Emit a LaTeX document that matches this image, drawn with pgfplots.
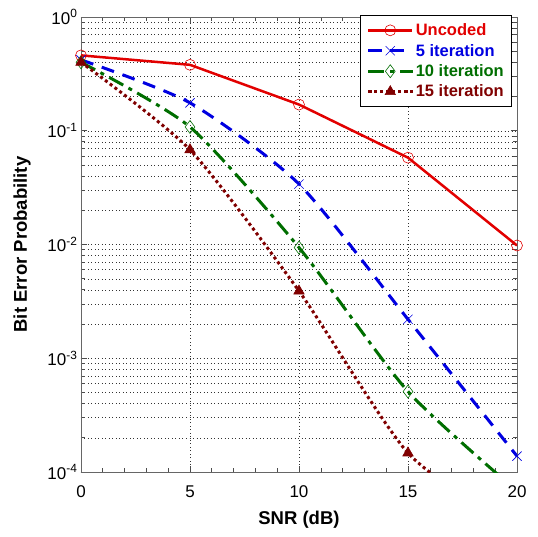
\documentclass[border=0pt]{standalone}
\usepackage{fontspec}
\setmainfont{Liberation Sans}
\usepackage{pgfplots}
\pgfplotsset{compat=1.18}

\definecolor{mred}{RGB}{226,0,0}
\definecolor{mblue}{RGB}{0,0,225}
\definecolor{mgreen}{RGB}{0,110,0}
\definecolor{mdark}{RGB}{128,0,0}

\begin{document}
\begin{tikzpicture}
\begin{axis}[
  scale only axis,
  width=436pt, height=455pt,
  xmin=0, xmax=20, ymode=log, ymin=1e-4, ymax=1,
  xtick={0,5,10,15,20}, minor x tick num=4,
  ytick={1e-4,1e-3,1e-2,1e-1,1},
  yticklabels={10\textsuperscript{-4},10\textsuperscript{-3},10\textsuperscript{-2},10\textsuperscript{-1},10\textsuperscript{0}},
  /pgf/number format/assume math mode=true,
  tick label style={font=\fontsize{17}{19}\selectfont},
  xticklabel style={yshift=-10pt},
  xmajorgrids, ymajorgrids, yminorgrids,
  grid style={black!80, dash pattern=on 1pt off 2.5pt, line width=0.5pt},
  minor grid style={black!80, dash pattern=on 1pt off 2.5pt, line width=0.5pt},
  axis line style={black!60, line width=0.8pt},
  tick style={black!70, line width=0.6pt},
  major tick length=6pt, minor tick length=4pt,
  xlabel={\textbf{SNR (dB)}},
  ylabel={\textbf{Bit Error Probability}},
  xlabel style={at={(axis description cs:0.5,-0.105)}, anchor=center},
  ylabel style={at={(axis description cs:-0.135,0.5)}, anchor=center},
  label style={font=\fontsize{18.5}{21}\selectfont},
  clip=true,
  legend cell align=left,
  legend style={at={(0.989,1.004)}, anchor=north east, draw=black, line width=0.8pt,
    font=\fontsize{16.5}{19.5}\selectfont, row sep=3pt, inner xsep=6pt, inner ysep=6pt},
  legend image code/.code={\draw[mark repeat=2,mark phase=2,#1] plot coordinates {(0pt,0pt) (22pt,0pt) (44pt,0pt)};},
]
\addplot[mred, line width=2.5pt, mark=o, mark size=5.5pt, mark options={solid, line width=0.6pt}]
  coordinates {(0,0.46) (5,0.38) (10,0.17) (15,0.058) (20,0.0098)};
\addlegendentry{\textcolor{mred}{\textbf{Uncoded}}}
\addplot[mblue, line width=3pt, dash pattern=on 13pt off 9pt, smooth, tension=0.4, mark=x, mark size=6.5pt, mark options={solid, line width=0.6pt}]
  coordinates {(0,0.42) (5,0.176) (10,0.034) (15,0.0022) (20,0.000138)};
\addlegendentry{\textcolor{mblue}{\textbf{5 iteration}}}
\addplot[mgreen, line width=3pt, dash pattern=on 16pt off 6pt on 4pt off 6pt, smooth, tension=0.4, mark=diamond, mark size=6.5pt, mark options={solid, line width=0.6pt}]
  coordinates {(0,0.40) (5,0.108) (10,0.0094) (15,0.00051) (20,0.000068)};
\addlegendentry{\textcolor{mgreen}{\textbf{10 iteration}}}
\addplot[mdark, line width=3pt, dash pattern=on 3pt off 3pt, smooth, tension=0.4, mark=triangle*, mark size=6pt, mark options={solid, line width=0.6pt}]
  coordinates {(0,0.40) (5,0.068) (10,0.0039) (15,0.000147) (20,0.00003)};
\addlegendentry{\textcolor{mdark}{\textbf{15 iteration}}}
\coordinate (ll) at (rel axis cs:0,0);
\end{axis}
\pgfresetboundingbox
\path (ll) ++(-81pt,-64pt) rectangle ++(538pt,536pt);
\end{tikzpicture}
\end{document}
